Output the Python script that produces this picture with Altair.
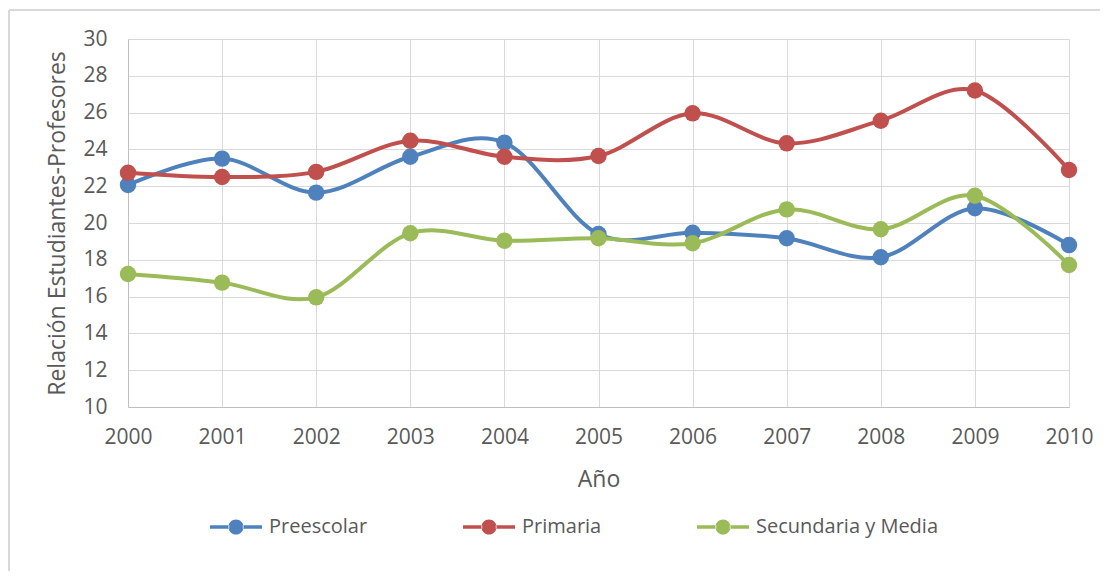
import altair as alt
import pandas as pd

years = [2000, 2001, 2002, 2003, 2004, 2005, 2006, 2007, 2008, 2009, 2010]
preescolar = [22.07, 23.5, 21.65, 23.6, 24.37, 19.4, 19.47, 19.17, 18.14, 20.8, 18.8]
primaria = [22.73, 22.5, 22.78, 24.47, 23.6, 23.64, 25.96, 24.33, 25.56, 27.2, 22.88]
secundaria = [17.23, 16.76, 15.96, 19.44, 19.04, 19.17, 18.9, 20.74, 19.66, 21.48, 17.72]

series_names = ["Preescolar", "Primaria", "Secundaria y Media"]
series_colors = ["#4f81bd", "#c0504d", "#9bbb59"]

rows = []
for name, vals in zip(series_names, [preescolar, primaria, secundaria]):
    for yr, v in zip(years, vals):
        rows.append({"Año": yr, "valor": v, "serie": name})
df = pd.DataFrame(rows)

FONT = "Open Sans"
TXT = "#595959"
GRID = "#d9d9d9"

W, H = 941, 368

# custom legend glyph: line with a dot in the middle (path units span -1..1)
legend_path = (
    "M-1,-0.07L-0.26,-0.07L-0.26,0.07L-1,0.07Z "
    "M0.26,-0.07L1,-0.07L1,0.07L0.26,0.07Z "
    "M-0.29,0A0.29,0.29 0 1,0 0.29,0A0.29,0.29 0 1,0 -0.29,0Z"
)

legend = alt.Legend(
    title=None, orient="none", direction="horizontal",
    legendX=82, legendY=462,
    symbolType=legend_path, symbolSize=2704, symbolStrokeWidth=0,
    symbolOpacity=1,
    labelFont=FONT, labelFontSize=20, labelColor=TXT, labelLimit=400,
    labelOffset=7, columnPadding=95,
)
color_enc = alt.Color(
    "serie:N",
    scale=alt.Scale(domain=series_names, range=series_colors),
    legend=legend,
)

x_enc = alt.X(
    "Año:Q",
    scale=alt.Scale(domain=[2000, 2010], nice=False, zero=False),
    axis=alt.Axis(values=years, format="d", title="Año", labelPadding=19,
                  titlePadding=21, grid=True, ticks=False, labelFlush=False),
)
y_enc = alt.Y(
    "valor:Q",
    scale=alt.Scale(domain=[10, 30], nice=False, zero=False),
    axis=alt.Axis(values=list(range(10, 31, 2)), title="Relación Estudiantes-Profesores",
                  labelPadding=21, titlePadding=13, grid=True, ticks=False),
)

base = alt.Chart(df).encode(x=x_enc, y=y_enc, color=color_enc)

line = base.mark_line(interpolate="cardinal", strokeWidth=4)
pts = base.mark_circle(size=270, opacity=1)

frame_df = pd.DataFrame({"k": [0]})
frame_top = alt.Chart(frame_df).mark_rule(color="#d9d9d9", strokeWidth=2).encode(
    x=alt.value(-119), x2=alt.value(W + 31), y=alt.value(-29)
)
frame_left = alt.Chart(frame_df).mark_rule(color="#d9d9d9", strokeWidth=2).encode(
    x=alt.value(-119), y=alt.value(-29), y2=alt.value(H + 164)
)

chart = alt.layer(line, pts, frame_top, frame_left).properties(
    width=W, height=H,
    autosize=alt.AutoSizeParams(type="none"),
    padding={"left": 120, "top": 31, "right": 31, "bottom": 164},
).configure_axis(
    labelFont=FONT, titleFont=FONT, labelColor=TXT, titleColor=TXT,
    labelFontSize=21, titleFontSize=23, titleFontWeight="normal",
    domainColor="#bfbfbf", gridColor=GRID, gridWidth=1,
).configure_view(stroke=None)

chart.save("out.html", embed_options={"renderer": "svg", "actions": False})
